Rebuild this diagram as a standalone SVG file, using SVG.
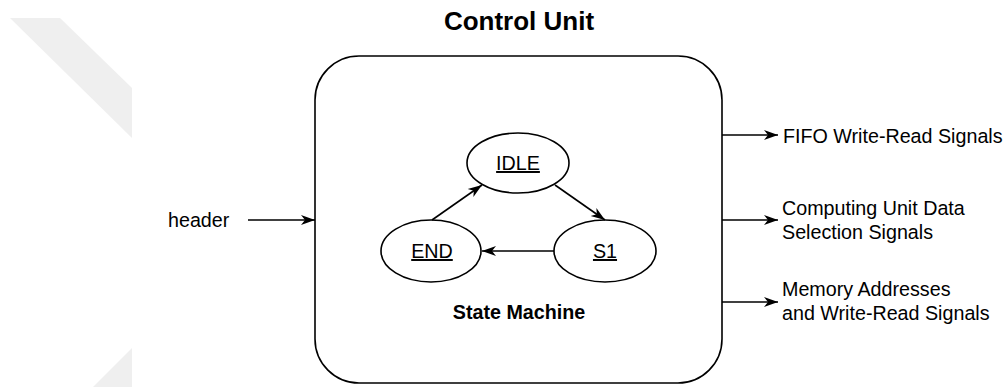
<svg xmlns="http://www.w3.org/2000/svg" width="1005" height="387" viewBox="0 0 1005 387">
  <style>
    .lbl { font-family: "Liberation Sans", Arial, sans-serif; font-size: 19.7px; fill: #000; }
    .bold { font-weight: bold; }
    .mid { text-anchor: middle; }
    .ul { text-decoration: underline; }
    .shape { fill: #fff; stroke: #000; stroke-width: 1.6; }
    .wire { fill: none; stroke: #000; stroke-width: 1.6; }
    .shade { fill: #efefef; }
  </style>
  <defs>
    <marker id="arrow" markerUnits="userSpaceOnUse" markerWidth="15" markerHeight="12" refX="14" refY="6" orient="auto">
      <path d="M0,1 L14,6 L0,11 L4,6 Z" fill="#000"/>
    </marker>
  </defs>

  <rect width="1005" height="387" fill="#fff"/>

  <!-- light background bands on the left edge -->
  <polygon class="shade" points="10,18 60,18 132,88 132,138"/>
  <polygon class="shade" points="132,348 132,387 93,387"/>

  <text class="lbl bold mid" x="519" y="30" style="font-size:26px">Control Unit</text>

  <g id="control-unit">
    <rect class="shape" x="315" y="56" width="407" height="327" rx="44" ry="44"/>
    <text class="lbl bold mid" x="519" y="319">State Machine</text>
  </g>

  <g id="state-idle">
    <ellipse class="shape" cx="518" cy="163" rx="51" ry="30"/>
    <text class="lbl mid ul" x="518" y="170">IDLE</text>
  </g>

  <g id="state-end">
    <ellipse class="shape" cx="431" cy="251" rx="50" ry="31"/>
    <text class="lbl mid ul" x="432" y="258">END</text>
  </g>

  <g id="state-s1">
    <ellipse class="shape" cx="605" cy="251" rx="51" ry="31"/>
    <text class="lbl mid ul" x="605" y="258">S1</text>
  </g>

  <g id="input-header">
    <text class="lbl" x="168" y="227">header</text>
  </g>

  <g id="out-fifo">
    <text class="lbl" x="783" y="143">FIFO Write-Read Signals</text>
  </g>

  <g id="out-computing">
    <text class="lbl" x="782" y="215">Computing Unit Data</text>
    <text class="lbl" x="782" y="239">Selection Signals</text>
  </g>

  <g id="out-memory">
    <text class="lbl" x="782" y="296">Memory Addresses</text>
    <text class="lbl" x="782" y="320">and Write-Read Signals</text>
  </g>

  <g id="connectors">
    <path class="wire" d="M248,220 L315,220" marker-end="url(#arrow)"/>
    <path class="wire" d="M722,135 L778,135" marker-end="url(#arrow)"/>
    <path class="wire" d="M722,220 L778,220" marker-end="url(#arrow)"/>
    <path class="wire" d="M722,302 L778,302" marker-end="url(#arrow)"/>
    <path class="wire" d="M432,220 L482,185" marker-end="url(#arrow)"/>
    <path class="wire" d="M555,185 L605,220" marker-end="url(#arrow)"/>
    <path class="wire" d="M554,251 L482,251" marker-end="url(#arrow)"/>
  </g>
</svg>
